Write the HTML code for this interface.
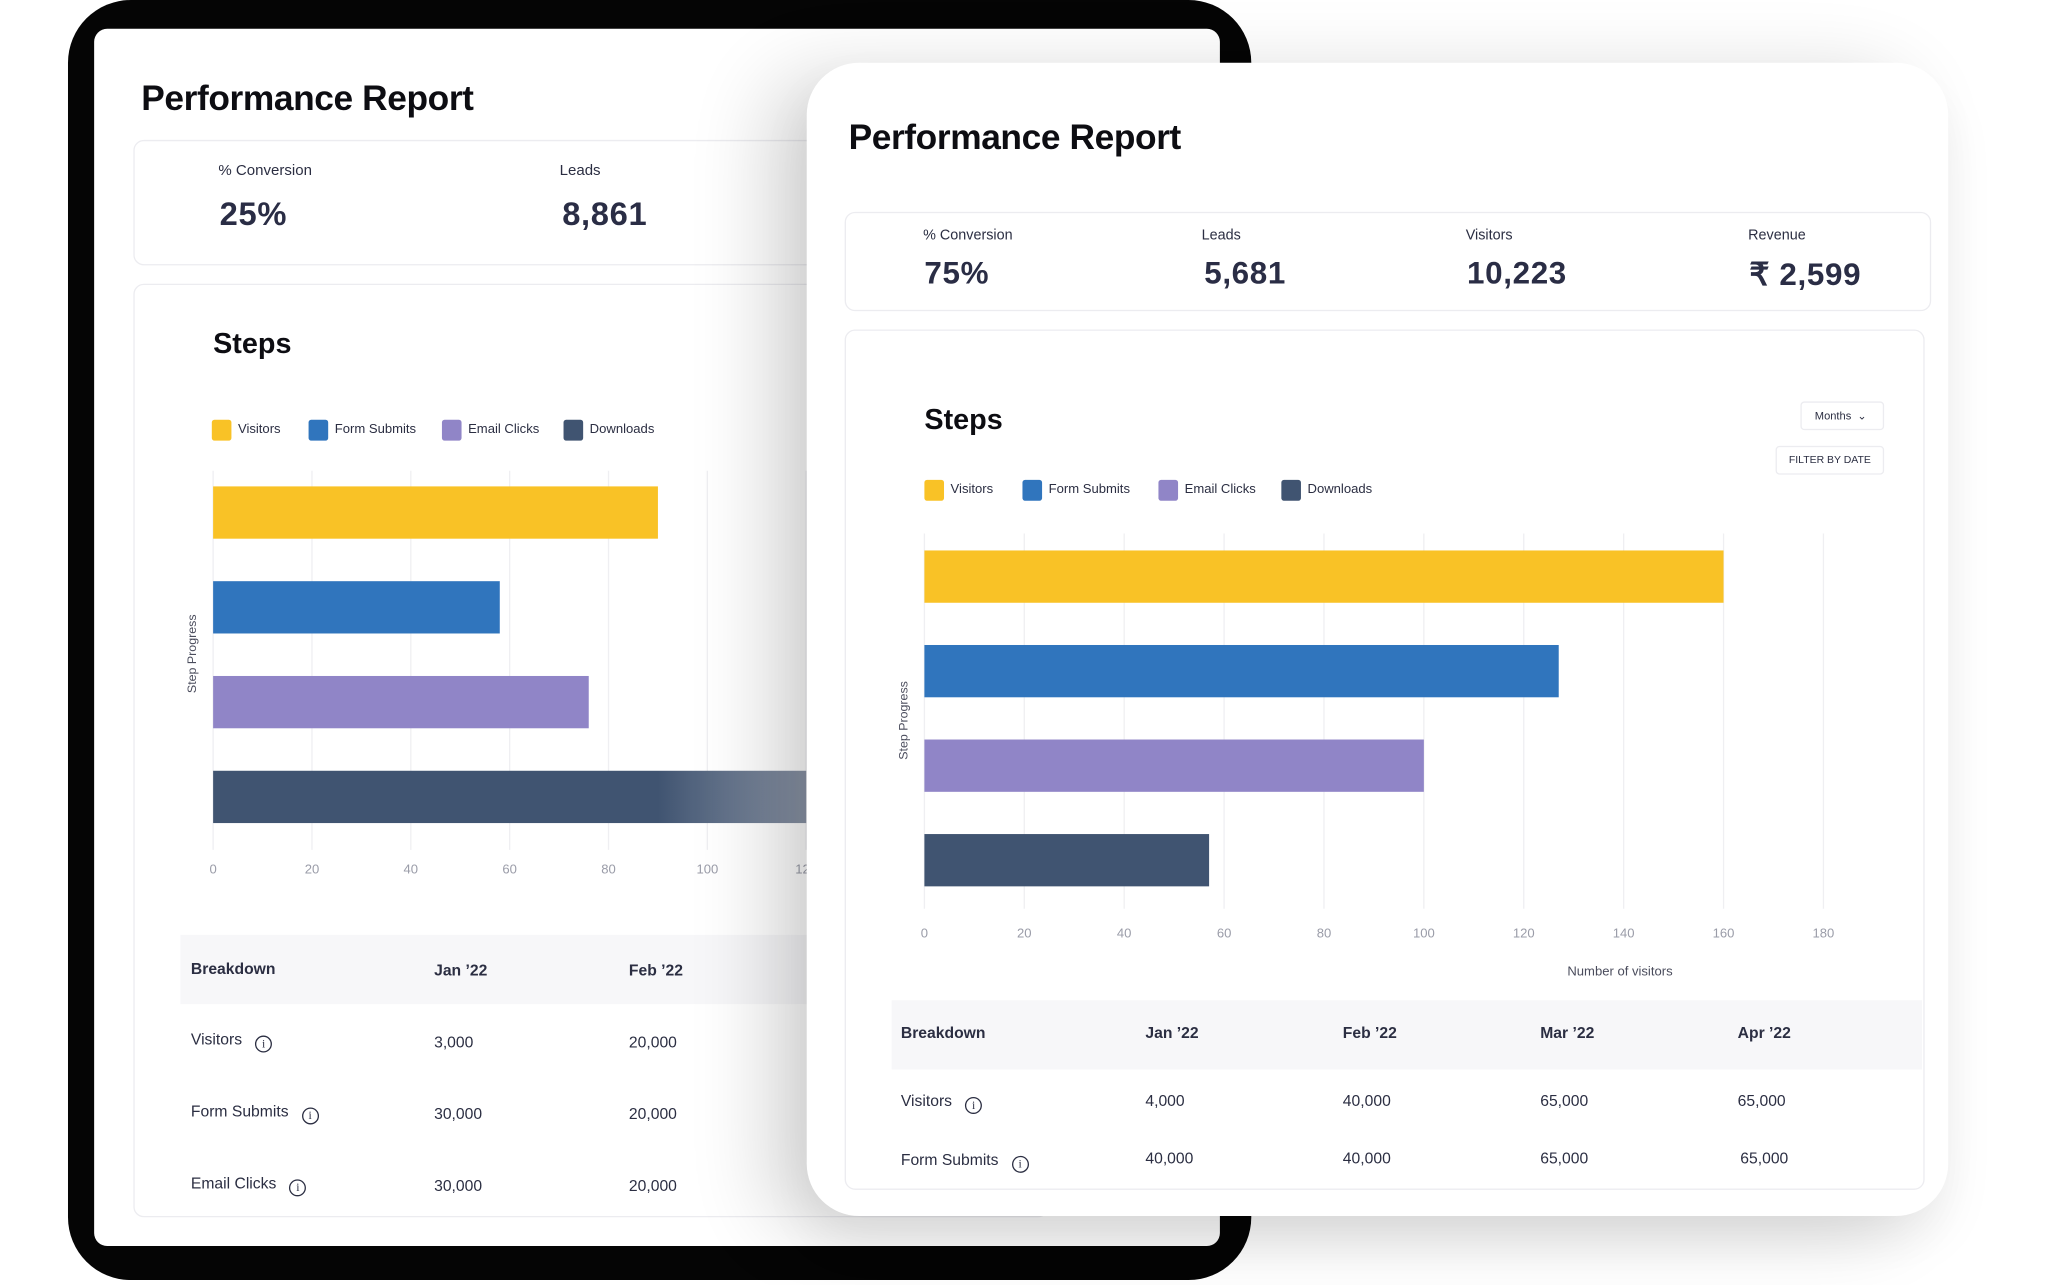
<!DOCTYPE html>
<html><head><meta charset="utf-8">
<style>
*{margin:0;padding:0;box-sizing:border-box}
html,body{width:2048px;height:1285px;overflow:hidden;background:#fff;font-family:"Liberation Sans",sans-serif}
#stage{position:absolute;left:0;top:0;width:1567px;height:983px;transform:scale(1.3075);transform-origin:0 0}
.abs{position:absolute}
.t{position:absolute;white-space:nowrap;color:#2b2e42}
.title{font-size:27px;font-weight:bold;color:#0d0d12;letter-spacing:-0.3px}
.lbl{font-size:11.5px;color:#2b2e42}
.val{font-size:25px;font-weight:bold;color:#2a2d45;letter-spacing:0.5px}
.box{position:absolute;border:1.5px solid #ececf0;border-radius:8px;background:#fff}
.steps{font-size:22px;font-weight:bold;color:#0d0d12}
.leg{font-size:10px;color:#2b2e42}
.sw{position:absolute;width:15px;height:16px;border-radius:2px}
.th{font-size:12px;font-weight:bold;color:#2b2e42}
.td{font-size:12px;color:#2b2e42}
.info{display:inline-block;width:13px;height:13px;border:1.3px solid #2b2e42;border-radius:50%;font-size:9px;text-align:center;line-height:11px;margin-left:10px;vertical-align:-2px;font-family:"Liberation Serif",serif}
</style></head>
<body>
<div id="stage">
  <div class="abs" style="left:52px;top:0;width:905px;height:979px;background:#050505;border-radius:48px"></div>
  <div class="abs" style="left:72px;top:22px;width:861px;height:931px;background:#fff;border-radius:10px;overflow:hidden">
    <div id="back" class="abs" style="left:-72px;top:-22px;width:1548px;height:971px">
      <div class="t title" style="left:108px;top:60px">Performance Report</div>
      <div class="box" style="left:102px;top:107px;width:700px;height:96px"></div>
      <div class="t lbl" style="left:167px;top:125px">% Conversion</div>
      <div class="t val" style="left:168px;top:150px">25%</div>
      <div class="t lbl" style="left:428px;top:125px">Leads</div>
      <div class="t val" style="left:430px;top:150px">8,861</div>
      <div class="box" style="left:102px;top:217px;width:700px;height:714px"></div>
      <div class="t steps" style="left:163px;top:250px">Steps</div>
      <div id="backLegend"></div>
      <svg id="backChart" class="abs" style="left:0;top:0" width="900" height="700"></svg>
      <div class="abs" style="left:138px;top:715px;width:700px;height:53px;background:#f7f7f9"></div>
      <div class="t th" style="left:146px;top:734px">Breakdown</div>
      <div class="t th" style="left:332px;top:735px">Jan ’22</div>
      <div class="t th" style="left:481px;top:735px">Feb  ’22</div>
      <div class="t td" style="left:146px;top:788px">Visitors<span class="info">i</span></div>
      <div class="t td" style="left:332px;top:790px">3,000</div>
      <div class="t td" style="left:481px;top:790px">20,000</div>
      <div class="t td" style="left:146px;top:843px">Form Submits<span class="info">i</span></div>
      <div class="t td" style="left:332px;top:845px">30,000</div>
      <div class="t td" style="left:481px;top:845px">20,000</div>
      <div class="t td" style="left:146px;top:898px">Email Clicks<span class="info">i</span></div>
      <div class="t td" style="left:332px;top:900px">30,000</div>
      <div class="t td" style="left:481px;top:900px">20,000</div>
    </div>
  </div>
  <div class="abs" style="left:617px;top:48px;width:873px;height:882px;background:#fff;border-radius:40px;box-shadow:-30px 10px 60px rgba(0,0,0,0.16),0 20px 40px rgba(0,0,0,0.06)"></div>
  <div class="t title" style="left:649px;top:90px">Performance Report</div>
  <div class="box" style="left:646px;top:162px;width:831px;height:76px"></div>
  <div class="t lbl" style="left:706px;top:174px;font-size:11px">% Conversion</div>
  <div class="t val" style="left:707px;top:196px;font-size:24px">75%</div>
  <div class="t lbl" style="left:919px;top:174px;font-size:11px">Leads</div>
  <div class="t val" style="left:921px;top:196px;font-size:24px">5,681</div>
  <div class="t lbl" style="left:1121px;top:174px;font-size:11px">Visitors</div>
  <div class="t val" style="left:1122px;top:196px;font-size:24px">10,223</div>
  <div class="t lbl" style="left:1337px;top:174px;font-size:11px">Revenue</div>
  <div class="t val" style="left:1338px;top:196px;font-size:24px">₹ 2,599</div>
  <div class="box" style="left:646px;top:252px;width:826px;height:658px"></div>
  <div class="t steps" style="left:707px;top:308px">Steps</div>
  <div class="abs" style="left:1377px;top:307px;width:64px;height:22px;border:1px solid #ececf0;border-radius:3px;font-size:8.5px;color:#2b2e42;line-height:20px;padding-left:10px">Months &nbsp;⌄</div>
  <div class="abs" style="left:1358px;top:341px;width:83px;height:22px;border:1px solid #ececf0;border-radius:3px;font-size:8px;color:#2b2e42;line-height:20px;text-align:center">FILTER BY DATE</div>
  <div id="frontLegend"></div>
  <svg id="frontChart" class="abs" style="left:0;top:0" width="1548" height="760"></svg>
  <div class="abs" style="left:682px;top:765px;width:788px;height:53px;background:#f7f7f9"></div>
  <div class="t th" style="left:689px;top:783px">Breakdown</div>
  <div class="t th" style="left:876px;top:783px">Jan ’22</div>
  <div class="t th" style="left:1027px;top:783px">Feb  ’22</div>
  <div class="t th" style="left:1178px;top:783px">Mar ’22</div>
  <div class="t th" style="left:1329px;top:783px">Apr ’22</div>
  <div class="t td" style="left:689px;top:835px">Visitors<span class="info">i</span></div>
  <div class="t td" style="left:876px;top:835px">4,000</div>
  <div class="t td" style="left:1027px;top:835px">40,000</div>
  <div class="t td" style="left:1178px;top:835px">65,000</div>
  <div class="t td" style="left:1329px;top:835px">65,000</div>
  <div class="t td" style="left:689px;top:880px">Form Submits<span class="info">i</span></div>
  <div class="t td" style="left:876px;top:879px">40,000</div>
  <div class="t td" style="left:1027px;top:879px">40,000</div>
  <div class="t td" style="left:1178px;top:879px">65,000</div>
  <div class="t td" style="left:1331px;top:879px">65,000</div>
</div>
<script>
const categories = ["Visitors","Form Submits","Email Clicks","Downloads"];
const colors = ["#f9c226","#3075bd","#9085c7","#405471"];
const frontValues = [160, 127, 100, 57];
const backValues = [90, 58, 76, 120];
const frontTicks = [0,20,40,60,80,100,120,140,160,180];
const backTicks = [0,20,40,60,80,100,120];
const NS = "http://www.w3.org/2000/svg";
function mk(tag, attrs, parent){const e=document.createElementNS(NS,tag);for(const k in attrs)e.setAttribute(k,attrs[k]);parent.appendChild(e);return e;}
function drawChart(svg, values, ticks, cfg){
  const x = v => cfg.x0 + v*cfg.scale;
  ticks.forEach(t=>{
    const g = mk("line",{x1:x(t),x2:x(t),y1:cfg.gTop,y2:cfg.gBot,stroke:"#efeff2","stroke-width":1},svg);
    
    
    const tx = mk("text",{x:x(t),y:cfg.tickY,"text-anchor":"middle","font-size":10,fill:"#9a9ca8","font-family":"Liberation Sans, sans-serif"},svg);
    tx.textContent = t;
    
    
  });
  values.forEach((v,i)=>{
    const r = mk("rect",{x:x(0),y:cfg.barTop + i*cfg.step,width:v*cfg.scale,height:cfg.barH,fill:cfg.fade&&i===3?"url(#fadeGrad)":colors[i]},svg);
    
    
  });
  const yl = mk("text",{x:0,y:0,transform:`translate(${cfg.yLabX},${cfg.yLabY}) rotate(-90)`,"text-anchor":"middle","font-size":9.5,fill:"#4a4c5c","font-family":"Liberation Sans, sans-serif"},svg);
  yl.textContent="Step Progress";
  
  
}
function drawLegend(id, xs, y){
  const parent = id==='backLegend'?document.getElementById('back'):document.getElementById('stage');
  categories.forEach((c,i)=>{
    const s=document.createElement('div');s.className='sw';s.style.left=xs[i]+'px';s.style.top=(y-8)+'px';s.style.background=colors[i];
    
    
    parent.appendChild(s);
    const t=document.createElement('div');t.className='t leg';t.style.left=(xs[i]+20)+'px';t.style.top=(y-6)+'px';t.textContent=c;
    
    
    parent.appendChild(t);
  });
}
const bs=document.getElementById('backChart');
const defs=mk("defs",{},bs);const lg=mk("linearGradient",{id:"fadeGrad",x1:"0",x2:"1",y1:"0",y2:"0"},defs);
mk("stop",{offset:"0.75","stop-color":"#405471"},lg);mk("stop",{offset:"1","stop-color":"#8c96a8"},lg);
drawChart(bs, backValues, backTicks, {x0:163,scale:3.78,gTop:360,gBot:650,tickY:668,barTop:372,step:72.5,barH:40,yLabX:150,yLabY:500,fade:true});
drawChart(document.getElementById('frontChart'), frontValues, frontTicks, {x0:707,scale:3.82,gTop:408,gBot:695,tickY:717,barTop:421,step:72.3,barH:40,yLabX:694,yLabY:551});
const nv=mk("text",{x:1239,y:746,"text-anchor":"middle","font-size":10,fill:"#4a4c5c","font-family":"Liberation Sans, sans-serif"},document.getElementById('frontChart'));
nv.textContent="Number of visitors";


drawLegend('backLegend',[162,236,338,431],329);
drawLegend('frontLegend',[707,782,886,980],375);
</script>
</body></html>
